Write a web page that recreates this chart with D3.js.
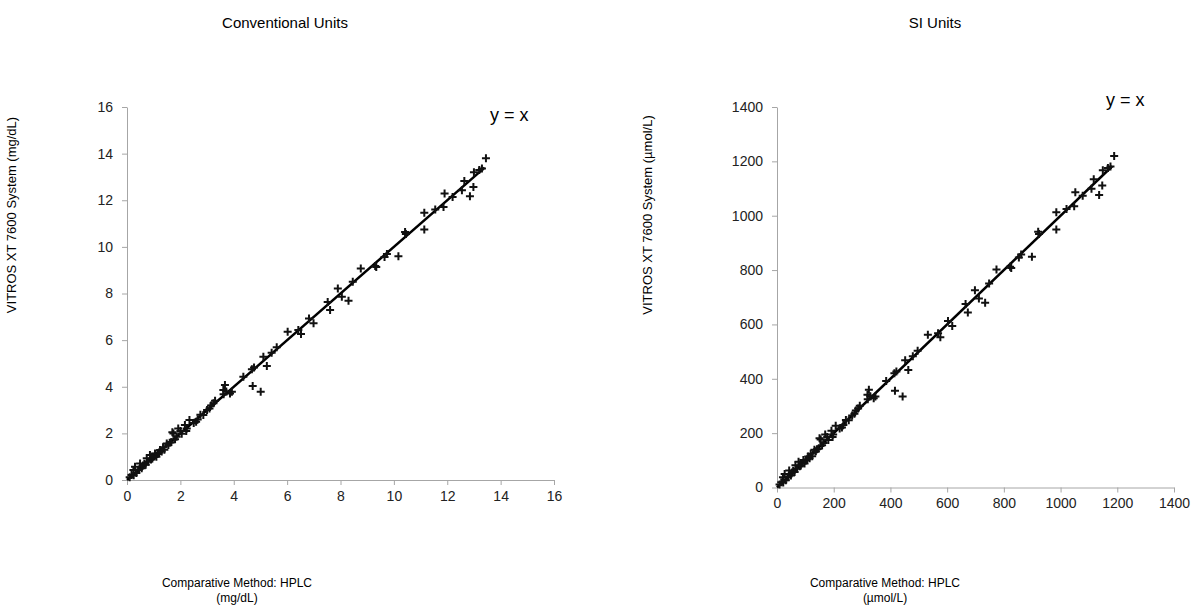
<!DOCTYPE html>
<html>
<head>
<meta charset="utf-8">
<script src="https://cdn.jsdelivr.net/npm/d3@7"></script>
<style>
  body { margin: 0; background: #fff; }
  svg { display: block; font-family: "Liberation Sans", Arial, sans-serif; }
  .axis path, .axis line { stroke: #a6a6a6; }
  .axis text { fill: #222; font-size: 14px; }
</style>
</head>
<body>
<script>
// Conventional units (mg/dL): comparative method x, VITROS y
const convX = [13.45, 13.3, 13.2, 13.0, 12.98, 12.85, 12.64, 12.55, 12.2, 11.9, 11.86, 11.55, 11.14, 11.14, 10.42, 10.45, 10.17, 9.74, 9.65, 9.34,
    9.3, 8.76, 8.46, 8.3, 8.05, 7.9, 7.52, 7.61, 6.82, 6.99, 6.02, 6.42, 6.52, 5.61, 5.42, 5.11, 5.24, 4.76, 4.68, 4.36,
    4.71, 5.01, 3.93, 3.67, 3.61, 3.86, 3.72, 3.62, 3.24, 3.3, 3.09, 3.0, 2.86, 2.75, 2.59, 2.34, 2.17, 2.22, 1.92, 1.74,
    1.7, 2.24, 2.0, 1.86, 2.05, 1.6, 1.49, 1.35, 1.24, 1.3, 1.15, 1.05, 0.98, 0.86, 0.9, 0.74, 0.8, 0.65, 0.6, 0.49,
    0.55, 0.45, 0.3, 0.24, 0.42, 0.35, 0.17, 0.25, 0.1, 1.1, 1.4, 1.55, 1.8, 2.5, 2.65, 3.15, 0.7, 0.95, 1.2, 1.65];
const convY = [13.8, 13.36, 13.3, 13.2, 12.57, 12.17, 12.83, 12.43, 12.14, 12.29, 11.71, 11.6, 11.46, 10.74, 10.64, 10.55, 9.6, 9.69, 9.57, 9.14,
    9.18, 9.07, 8.5, 7.69, 7.86, 8.21, 7.64, 7.29, 6.93, 6.72, 6.36, 6.43, 6.26, 5.69, 5.46, 5.29, 4.89, 4.83, 4.75, 4.43,
    4.03, 3.79, 3.79, 4.07, 3.86, 3.71, 3.8, 3.68, 3.29, 3.4, 3.07, 3.0, 2.79, 2.8, 2.5, 2.57, 2.36, 2.1, 2.21, 2.0,
    2.05, 2.21, 2.1, 1.86, 1.98, 1.6, 1.57, 1.4, 1.29, 1.22, 1.12, 1.14, 1.0, 1.07, 0.88, 0.93, 0.78, 0.7, 0.62, 0.71,
    0.5, 0.45, 0.57, 0.43, 0.43, 0.3, 0.21, 0.2, 0.12, 1.0, 1.3, 1.5, 1.75, 2.45, 2.6, 3.2, 0.65, 0.92, 1.18, 1.62];

// SI units (umol/L)
const siX = [1189, 1176, 1167, 1149, 1147, 1136, 1117, 1109, 1078, 1052, 1048, 1021, 985, 985, 921, 924, 899, 861, 853, 826,
    822, 774, 748, 734, 712, 698, 665, 673, 603, 618, 532, 568, 576, 496, 479, 452, 463, 421, 414, 385,
    416, 443, 347, 324, 319, 341, 329, 320, 286, 292, 273, 265, 253, 243, 229, 207, 192, 196, 170, 154,
    150, 198, 177, 164, 181, 141, 132, 119, 110, 115, 102, 93, 87, 76, 80, 65, 71, 57, 53, 43,
    49, 40, 27, 21, 37, 31, 15, 22, 9, 97, 124, 137, 159, 221, 234, 278, 62, 84, 106, 146];
const siY = [1220, 1181, 1176, 1167, 1111, 1076, 1134, 1099, 1073, 1086, 1035, 1025, 1013, 949, 941, 933, 849, 857, 846, 808,
    812, 802, 751, 680, 695, 726, 675, 644, 613, 594, 562, 568, 553, 503, 483, 468, 432, 427, 420, 392,
    356, 335, 335, 360, 341, 328, 336, 325, 291, 301, 271, 265, 247, 248, 221, 227, 209, 186, 195, 177,
    181, 195, 186, 164, 175, 141, 139, 124, 114, 108, 99, 101, 88, 95, 78, 82, 69, 62, 55, 63,
    44, 40, 50, 38, 38, 27, 19, 18, 11, 88, 115, 133, 155, 217, 230, 283, 57, 81, 104, 143];

const convTicks = [0, 2, 4, 6, 8, 10, 12, 14, 16];
const siTicks = [0, 200, 400, 600, 800, 1000, 1200, 1400];
const convLine = [0, 13.4];
const siLine = [0, 1182];

const svg = d3.select('body')
    .append('svg')
    .attr('width', 1193)
    .attr('height', 615);

function drawPanel(opts) {
    const x = d3.scaleLinear().domain(opts.domain).range([opts.left, opts.right]);
    const y = d3.scaleLinear().domain(opts.domain).range([opts.bottom, opts.top]);
    const fmt = d3.format('d');

    svg.append('g')
        .attr('class', 'axis')
        .attr('transform', 'translate(0,' + opts.bottom + ')')
        .call(d3.axisBottom(x).tickValues(opts.ticks).tickFormat(fmt).tickSize(5).tickPadding(6).tickSizeOuter(0));

    svg.append('g')
        .attr('class', 'axis')
        .attr('transform', 'translate(' + opts.left + ',0)')
        .call(d3.axisLeft(y).tickValues(opts.ticks).tickFormat(fmt).tickSize(5).tickPadding(9).tickSizeOuter(0));

    svg.append('line')
        .attr('x1', x(opts.line[0])).attr('y1', y(opts.line[0]))
        .attr('x2', x(opts.line[1])).attr('y2', y(opts.line[1]))
        .attr('stroke', '#000')
        .attr('stroke-width', 2.5);

    svg.append('g')
        .selectAll('path')
        .data(opts.xs.map((v, i) => [v, opts.ys[i]]))
        .enter()
        .append('path')
        .attr('transform', (d) => 'translate(' + x(d[0]) + ',' + y(d[1]) + ')')
        .attr('d', 'M-4,0H4M0,-4V4')
        .attr('stroke', '#111')
        .attr('stroke-width', 2);

    svg.append('text')
        .attr('x', opts.titleX).attr('y', 28)
        .attr('text-anchor', 'middle')
        .attr('font-size', 15)
        .text(opts.title);

    svg.append('text')
        .attr('x', opts.eqX).attr('y', opts.eqY)
        .attr('font-size', 18)
        .text('y = x');

    svg.append('text')
        .attr('transform', 'translate(' + opts.yLabelX + ',215) rotate(-90)')
        .attr('text-anchor', 'middle')
        .attr('font-size', 13)
        .text(opts.yLabel);

    const xl = svg.append('text')
        .attr('text-anchor', 'middle')
        .attr('font-size', 12);
    xl.append('tspan').attr('x', opts.xLabelX).attr('y', 587).text('Comparative Method: HPLC');
    xl.append('tspan').attr('x', opts.xLabelX).attr('y', 602).text(opts.unit);
}

drawPanel({
    domain: [0, 16], ticks: convTicks, xs: convX, ys: convY, line: convLine,
    left: 127, right: 554, top: 107, bottom: 480,
    title: 'Conventional Units', titleX: 285,
    eqX: 490, eqY: 121,
    yLabel: 'VITROS XT 7600 System (mg/dL)', yLabelX: 16,
    xLabelX: 237, unit: '(mg/dL)'
});

drawPanel({
    domain: [0, 1400], ticks: siTicks, xs: siX, ys: siY, line: siLine,
    left: 777, right: 1174, top: 107, bottom: 487.5,
    title: 'SI Units', titleX: 935,
    eqX: 1106, eqY: 106,
    yLabel: 'VITROS XT 7600 System (\u00b5mol/L)', yLabelX: 652,
    xLabelX: 885, unit: '(\u00b5mol/L)'
});
</script>
</body>
</html>
